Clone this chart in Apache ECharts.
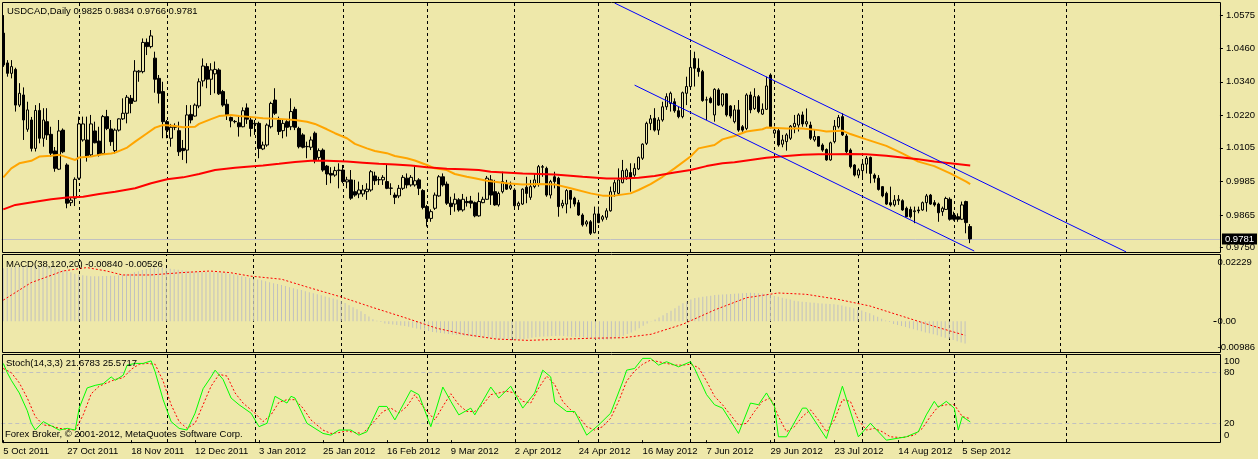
<!DOCTYPE html>
<html><head><meta charset="utf-8">
<script src="https://cdn.jsdelivr.net/npm/echarts@6/dist/echarts.min.js"></script>
<style>html,body{margin:0;padding:0;background:#EEE8AA;} #c{width:1258px;height:459px;}</style>
</head><body><div id="c"></div>
<script>
// ---------- data ----------
const openP = [
1.0513,1.0407,1.0370,1.0384,1.0257,1.0293,1.0171,1.0204,1.0103,1.0238,
1.0139,1.0198,1.0153,1.0094,1.0029,1.0168,1.0044,0.9910,0.9926,0.9997,
1.0133,1.0133,1.0080,1.0165,1.0129,1.0085,1.0216,1.0172,1.0095,1.0168,
1.0208,1.0228,1.0281,1.0271,1.0375,1.0376,1.0480,1.0465,1.0424,1.0352,
1.0305,1.0198,1.0139,1.0182,1.0166,1.0103,1.0097,1.0224,1.0218,1.0254,
1.0343,1.0394,1.0349,1.0368,1.0382,1.0305,1.0260,1.0213,1.0199,1.0194,
1.0180,1.0247,1.0204,1.0190,1.0192,1.0101,1.0115,1.0180,1.0275,1.0204,
1.0166,1.0198,1.0180,1.0242,1.0174,1.0151,1.0109,1.0107,1.0157,1.0071,
1.0097,1.0040,1.0014,1.0008,1.0024,1.0026,0.9984,0.9991,0.9949,0.9941,
0.9941,0.9949,0.9955,1.0005,0.9991,0.9991,0.9985,0.9961,0.9937,0.9934,
0.9961,0.9997,0.9973,0.9973,0.9991,0.9953,0.9896,0.9854,0.9890,0.9934,
1.0002,0.9976,0.9908,0.9905,0.9920,0.9884,0.9914,0.9916,0.9910,0.9863,
0.9910,0.9922,0.9991,0.9949,0.9902,0.9949,0.9976,0.9961,0.9955,0.9899,
0.9905,0.9965,0.9929,0.9967,0.9976,1.0036,1.0032,0.9937,1.0002,0.9997,
0.9899,0.9905,0.9953,0.9926,0.9910,0.9866,0.9834,0.9842,0.9803,0.9870,
0.9851,0.9858,0.9881,0.9949,0.9943,0.9981,1.0002,1.0017,1.0008,1.0030,
1.0068,1.0121,1.0192,1.0210,1.0168,1.0204,1.0251,1.0263,1.0269,1.0237,
1.0216,1.0299,1.0323,1.0423,1.0388,1.0376,1.0275,1.0281,1.0222,1.0311,
1.0257,1.0297,1.0254,1.0198,1.0240,1.0180,1.0174,1.0293,1.0245,1.0287,
1.0225,1.0242,1.0364,1.0157,1.0166,1.0118,1.0127,1.0139,1.0180,1.0186,
1.0222,1.0190,1.0186,1.0133,1.0145,1.0115,1.0099,1.0062,1.0127,1.0180,
1.0216,1.0147,1.0097,1.0044,1.0008,1.0024,1.0047,1.0071,1.0008,0.9997,
0.9967,0.9943,0.9910,0.9902,0.9917,0.9917,0.9890,0.9886,0.9878,0.9884,
0.9884,0.9910,0.9937,0.9910,0.9905,0.9878,0.9886,0.9922,0.9866,0.9860,
0.9851,0.9914,0.9825];
const highP = [
1.0577,1.0417,1.0417,1.0390,1.0335,1.0320,1.0269,1.0215,1.0257,1.0264,
1.0246,1.0246,1.0180,1.0108,1.0204,1.0174,1.0050,0.9930,1.0000,1.0216,
1.0216,1.0216,1.0222,1.0198,1.0180,1.0222,1.0240,1.0204,1.0174,1.0210,
1.0281,1.0293,1.0293,1.0417,1.0382,1.0494,1.0494,1.0524,1.0447,1.0364,
1.0340,1.0204,1.0190,1.0192,1.0198,1.0133,1.0257,1.0257,1.0263,1.0352,
1.0423,1.0406,1.0406,1.0412,1.0388,1.0311,1.0278,1.0216,1.0204,1.0216,
1.0249,1.0263,1.0216,1.0204,1.0198,1.0127,1.0192,1.0269,1.0317,1.0216,
1.0204,1.0204,1.0281,1.0251,1.0180,1.0157,1.0127,1.0145,1.0163,1.0103,
1.0103,1.0044,1.0036,1.0038,1.0050,1.0044,1.0002,1.0026,0.9991,0.9985,
0.9973,0.9979,1.0026,1.0020,1.0002,1.0008,1.0044,0.9979,0.9946,0.9973,
1.0008,1.0014,1.0008,1.0044,0.9997,0.9958,0.9902,0.9886,0.9946,1.0008,
1.0014,0.9985,0.9931,0.9943,0.9926,0.9941,0.9931,0.9934,0.9914,0.9946,
0.9931,1.0005,1.0008,0.9991,0.9949,1.0020,0.9991,0.9985,0.9961,0.9914,
0.9961,1.0002,0.9991,1.0014,1.0044,1.0044,1.0038,0.9991,1.0020,1.0002,
0.9920,0.9958,0.9955,0.9931,0.9920,0.9872,0.9848,0.9848,0.9896,0.9896,
0.9866,0.9890,0.9967,0.9991,1.0032,1.0062,1.0032,1.0050,1.0050,1.0074,
1.0121,1.0198,1.0222,1.0246,1.0214,1.0269,1.0299,1.0305,1.0281,1.0251,
1.0305,1.0358,1.0453,1.0447,1.0423,1.0382,1.0287,1.0287,1.0317,1.0317,
1.0299,1.0299,1.0257,1.0257,1.0275,1.0186,1.0299,1.0305,1.0317,1.0293,
1.0263,1.0358,1.0370,1.0180,1.0174,1.0151,1.0157,1.0186,1.0222,1.0228,
1.0234,1.0245,1.0198,1.0168,1.0147,1.0121,1.0103,1.0127,1.0204,1.0222,
1.0228,1.0154,1.0103,1.0047,1.0032,1.0056,1.0076,1.0074,1.0014,1.0008,
0.9969,0.9949,0.9967,0.9937,0.9937,0.9922,0.9896,0.9896,0.9896,0.9896,
0.9914,0.9941,0.9941,0.9919,0.9910,0.9896,0.9931,0.9929,0.9878,0.9872,
0.9914,0.9917,0.9834];
const lowP = [
1.0393,1.0358,1.0352,1.0234,1.0250,1.0133,1.0162,1.0092,1.0092,1.0121,
1.0109,1.0133,1.0074,1.0020,1.0026,1.0086,0.9890,0.9898,0.9898,0.9991,
1.0127,1.0056,1.0074,1.0121,1.0074,1.0080,1.0168,1.0112,1.0085,1.0163,
1.0204,1.0192,1.0228,1.0269,1.0340,1.0370,1.0435,1.0459,1.0301,1.0263,
1.0139,1.0139,1.0109,1.0168,1.0076,1.0062,1.0050,1.0192,1.0216,1.0246,
1.0323,1.0317,1.0293,1.0299,1.0293,1.0251,1.0204,1.0178,1.0192,1.0145,
1.0178,1.0190,1.0145,1.0151,1.0068,1.0097,1.0109,1.0174,1.0222,1.0151,
1.0139,1.0145,1.0168,1.0168,1.0103,1.0103,1.0068,1.0097,1.0050,1.0062,
1.0020,0.9973,0.9979,1.0002,0.9961,0.9979,0.9961,0.9920,0.9931,0.9926,
0.9931,0.9920,0.9949,0.9973,0.9973,0.9973,0.9958,0.9937,0.9905,0.9926,
0.9955,0.9961,0.9967,0.9967,0.9937,0.9886,0.9825,0.9842,0.9884,0.9931,
0.9967,0.9902,0.9866,0.9878,0.9878,0.9878,0.9896,0.9890,0.9858,0.9860,
0.9908,0.9920,0.9902,0.9899,0.9896,0.9943,0.9955,0.9955,0.9884,0.9884,
0.9902,0.9908,0.9920,0.9961,0.9967,1.0002,0.9931,0.9925,0.9961,0.9860,
0.9890,0.9872,0.9890,0.9896,0.9863,0.9825,0.9825,0.9795,0.9801,0.9837,
0.9843,0.9849,0.9878,0.9931,0.9938,0.9979,0.9991,0.9949,1.0002,1.0026,
1.0062,1.0115,1.0168,1.0163,1.0151,1.0198,1.0240,1.0234,1.0230,1.0210,
1.0210,1.0257,1.0317,1.0323,1.0358,1.0269,1.0204,1.0263,1.0198,1.0254,
1.0251,1.0216,1.0210,1.0192,1.0162,1.0162,1.0168,1.0228,1.0240,1.0228,
1.0222,1.0240,1.0174,1.0151,1.0109,1.0107,1.0095,1.0133,1.0157,1.0163,
1.0180,1.0180,1.0133,1.0127,1.0109,1.0091,1.0059,1.0059,1.0121,1.0174,
1.0147,1.0085,1.0032,1.0003,0.9997,0.9993,1.0014,0.9979,0.9981,0.9953,
0.9929,0.9902,0.9896,0.9896,0.9902,0.9881,0.9858,0.9854,0.9837,0.9872,
0.9881,0.9878,0.9902,0.9896,0.9842,0.9863,0.9884,0.9846,0.9846,0.9842,
0.9848,0.9801,0.9766];
const closeP = [
1.0400,1.0370,1.0394,1.0257,1.0299,1.0204,1.0240,1.0103,1.0238,1.0139,
1.0204,1.0151,1.0086,1.0032,1.0165,1.0091,0.9908,0.9919,0.9993,1.0190,
1.0190,1.0074,1.0190,1.0123,1.0080,1.0216,1.0174,1.0127,1.0168,1.0208,
1.0228,1.0285,1.0263,1.0378,1.0378,1.0480,1.0465,1.0503,1.0349,1.0299,
1.0198,1.0168,1.0178,1.0178,1.0091,1.0095,1.0222,1.0204,1.0257,1.0340,
1.0396,1.0349,1.0382,1.0384,1.0297,1.0257,1.0222,1.0201,1.0198,1.0180,
1.0237,1.0207,1.0174,1.0192,1.0103,1.0115,1.0186,1.0263,1.0228,1.0163,
1.0192,1.0178,1.0234,1.0178,1.0109,1.0107,1.0110,1.0133,1.0062,1.0095,
1.0026,1.0012,1.0008,1.0024,1.0026,0.9985,0.9991,0.9926,0.9937,0.9955,
0.9955,0.9958,1.0020,0.9988,0.9992,1.0000,0.9961,0.9962,0.9929,0.9961,
1.0000,0.9973,1.0000,0.9988,0.9961,0.9893,0.9854,0.9878,0.9937,1.0002,
0.9973,0.9908,0.9896,0.9922,0.9884,0.9922,0.9910,0.9908,0.9863,0.9914,
0.9922,0.9997,0.9937,0.9902,0.9943,0.9985,0.9958,0.9970,0.9899,0.9908,
0.9958,0.9943,0.9967,0.9991,1.0038,1.0038,0.9937,0.9985,0.9985,0.9896,
0.9908,0.9953,0.9922,0.9905,0.9866,0.9831,0.9842,0.9801,0.9870,0.9839,
0.9860,0.9881,0.9949,0.9981,0.9991,1.0024,1.0026,1.0000,1.0032,1.0071,
1.0118,1.0192,1.0208,1.0168,1.0204,1.0251,1.0287,1.0299,1.0237,1.0216,
1.0301,1.0323,1.0391,1.0388,1.0376,1.0273,1.0276,1.0266,1.0313,1.0257,
1.0297,1.0222,1.0218,1.0240,1.0168,1.0168,1.0293,1.0240,1.0287,1.0234,
1.0242,1.0325,1.0180,1.0168,1.0115,1.0133,1.0151,1.0182,1.0192,1.0222,
1.0190,1.0198,1.0139,1.0145,1.0111,1.0097,1.0062,1.0123,1.0182,1.0213,
1.0151,1.0091,1.0038,1.0008,1.0026,1.0047,1.0068,1.0014,0.9997,0.9957,
0.9934,0.9905,0.9902,0.9919,0.9922,0.9884,0.9860,0.9860,0.9881,0.9881,
0.9910,0.9934,0.9905,0.9902,0.9874,0.9890,0.9925,0.9851,0.9851,0.9851,
0.9902,0.9839,0.9781];

const maOrange = [[0,1.0000],[2,1.0032],[4,1.0050],[7,1.0059],[9,1.0074],[12,1.0077],[14,1.0080],[16,1.0071],[18,1.0062],[19,1.0071],[22,1.0074],[24,1.0080],[27,1.0085],[28,1.0088],[31,1.0106],[33,1.0127],[36,1.0157],[38,1.0177],[40,1.0186],[43,1.0183],[45,1.0178],[48,1.0180],[49,1.0190],[52,1.0207],[54,1.0218],[57,1.0222],[59,1.0218],[61,1.0216],[65,1.0210],[69,1.0208],[73,1.0204],[76,1.0198],[78,1.0190],[81,1.0171],[83,1.0157],[86,1.0139],[88,1.0119],[91,1.0103],[93,1.0094],[96,1.0086],[98,1.0076],[101,1.0068],[103,1.0060],[106,1.0044],[108,1.0032],[111,1.0026],[113,1.0012],[116,1.0002],[118,0.9997],[121,0.9988],[123,0.9984],[126,0.9979],[130,0.9975],[134,0.9976],[138,0.9975],[142,0.9961],[147,0.9943],[150,0.9935],[153,0.9935],[157,0.9943],[159,0.9955],[162,0.9976],[165,1.0002],[168,1.0032],[172,1.0074],[174,1.0103],[178,1.0115],[180,1.0135],[183,1.0147],[186,1.0163],[190,1.0171],[191,1.0177],[196,1.0174],[200,1.0174],[204,1.0168],[206,1.0163],[210,1.0166],[212,1.0154],[216,1.0135],[221,1.0112],[225,1.0085],[229,1.0056],[233,1.0040],[237,1.0014],[241,0.9985],[242,0.9976]];
const maRed = [[0,0.9886],[3,0.9902],[8,0.9913],[12,0.9922],[16,0.9928],[20,0.9931],[24,0.9941],[28,0.9949],[33,0.9961],[37,0.9979],[41,0.9993],[45,1.0000],[49,1.0012],[53,1.0026],[58,1.0034],[61,1.0038],[65,1.0042],[69,1.0048],[73,1.0055],[77,1.0059],[81,1.0059],[86,1.0056],[90,1.0052],[94,1.0048],[98,1.0046],[102,1.0042],[106,1.0036],[111,1.0031],[115,1.0029],[119,1.0026],[122,1.0020],[130,1.0014],[138,1.0010],[145,1.0002],[151,0.9996],[155,0.9996],[159,0.9999],[163,1.0005],[168,1.0017],[172,1.0026],[176,1.0040],[180,1.0050],[183,1.0054],[187,1.0062],[191,1.0070],[196,1.0076],[200,1.0080],[204,1.0082],[208,1.0082],[212,1.0083],[216,1.0082],[221,1.0077],[225,1.0071],[229,1.0064],[233,1.0056],[237,1.0050],[242,1.0042]];

const macdHist = [
0.0200,0.0202,0.0203,0.0205,0.0206,0.0207,0.0208,0.0209,0.0210,0.0209,
0.0208,0.0207,0.0205,0.0202,0.0198,0.0194,0.0190,0.0185,0.0180,0.0176,
0.0174,0.0172,0.0170,0.0170,0.0170,0.0171,0.0171,0.0172,0.0172,0.0174,
0.0176,0.0178,0.0180,0.0185,0.0189,0.0194,0.0198,0.0201,0.0203,0.0203,
0.0203,0.0201,0.0199,0.0197,0.0195,0.0193,0.0191,0.0189,0.0187,0.0187,
0.0186,0.0186,0.0186,0.0185,0.0185,0.0184,0.0183,0.0180,0.0177,0.0174,
0.0170,0.0167,0.0164,0.0161,0.0158,0.0155,0.0151,0.0148,0.0144,0.0141,
0.0137,0.0133,0.0129,0.0125,0.0121,0.0118,0.0114,0.0110,0.0106,0.0102,
0.0098,0.0094,0.0090,0.0086,0.0082,0.0077,0.0069,0.0061,0.0053,0.0046,
0.0038,0.0028,0.0018,0.0008,0.0002,-0.0003,-0.0008,-0.0010,-0.0012,-0.0014,
-0.0016,-0.0018,-0.0021,-0.0024,-0.0027,-0.0031,-0.0034,-0.0037,-0.0040,-0.0042,
-0.0044,-0.0046,-0.0048,-0.0050,-0.0052,-0.0053,-0.0055,-0.0056,-0.0058,-0.0059,
-0.0060,-0.0062,-0.0063,-0.0064,-0.0066,-0.0067,-0.0068,-0.0069,-0.0070,-0.0071,
-0.0069,-0.0067,-0.0065,-0.0062,-0.0060,-0.0058,-0.0057,-0.0057,-0.0056,-0.0056,
-0.0055,-0.0056,-0.0057,-0.0058,-0.0059,-0.0060,-0.0061,-0.0063,-0.0066,-0.0069,
-0.0071,-0.0070,-0.0069,-0.0068,-0.0064,-0.0060,-0.0055,-0.0048,-0.0042,-0.0035,
-0.0026,-0.0017,-0.0008,-0.0001,0.0007,0.0014,0.0023,0.0031,0.0040,0.0049,
0.0059,0.0068,0.0075,0.0082,0.0088,0.0090,0.0093,0.0095,0.0097,0.0099,
0.0100,0.0101,0.0102,0.0103,0.0104,0.0105,0.0106,0.0107,0.0108,0.0107,
0.0106,0.0105,0.0102,0.0099,0.0096,0.0093,0.0089,0.0085,0.0082,0.0078,
0.0076,0.0074,0.0073,0.0071,0.0070,0.0068,0.0067,0.0066,0.0065,0.0064,
0.0063,0.0060,0.0056,0.0053,0.0049,0.0046,0.0041,0.0035,0.0030,0.0023,
0.0017,0.0010,0.0003,-0.0003,-0.0010,-0.0014,-0.0018,-0.0022,-0.0026,-0.0030,
-0.0034,-0.0038,-0.0042,-0.0045,-0.0049,-0.0053,-0.0058,-0.0062,-0.0066,-0.0071,
-0.0075,-0.0080,-0.0084];
const macdSignal = [[0,0.0080],[7,0.0146],[15,0.0190],[21,0.0203],[26,0.0190],[30,0.0175],[37,0.0175],[45,0.0184],[52,0.0190],[57,0.0184],[62,0.0171],[70,0.0159],[77,0.0127],[85,0.0092],[93,0.0052],[101,0.0014],[109,-0.0026],[116,-0.0049],[124,-0.0067],[132,-0.0072],[140,-0.0068],[148,-0.0064],[156,-0.0062],[163,-0.0049],[171,-0.0011],[179,0.0043],[187,0.0089],[195,0.0107],[202,0.0102],[210,0.0083],[218,0.0058],[226,0.0020],[234,-0.0018],[242,-0.0053]];

const stochMain = [[0,91],[1,80],[2,71],[4,56],[6,35],[7,20],[8,12],[10,22],[12,17],[14,12],[16,14],[18,12],[19,38],[21,62],[23,65],[25,67],[27,75],[28,71],[30,77],[31,89],[33,91],[35,91],[37,94],[38,81],[40,48],[42,22],[44,14],[46,12],[48,32],[50,61],[52,75],[53,83],[55,72],[57,50],[59,42],[62,32],[64,16],[66,20],[68,52],[71,44],[72,52],[73,50],[76,20],[80,8],[82,6],[84,12],[87,12],[89,6],[91,10],[94,40],[96,40],[98,24],[102,59],[104,54],[107,16],[110,63],[112,46],[114,30],[117,38],[118,30],[122,63],[124,50],[127,64],[130,38],[133,56],[135,83],[137,75],[138,45],[141,34],[143,34],[146,6],[149,18],[152,32],[155,69],[156,83],[158,85],[160,97],[162,97],[164,89],[166,93],[169,87],[172,93],[173,85],[176,54],[178,42],[180,38],[184,8],[187,44],[189,42],[191,56],[193,40],[194,4],[196,4],[200,38],[201,38],[206,2],[210,64],[214,4],[217,20],[221,0],[226,4],[229,10],[231,30],[233,46],[234,39],[236,46],[238,38],[239,12],[240,28],[242,21.68]];
const stochSignal = [[0,85],[2,80],[4,68],[6,50],[8,28],[10,18],[12,17],[14,14],[16,13],[18,12],[20,30],[22,55],[24,64],[26,68],[28,72],[30,74],[32,84],[34,90],[36,91],[38,90],[40,70],[42,42],[44,22],[46,14],[48,20],[50,42],[52,64],[54,78],[56,76],[58,56],[60,44],[63,32],[65,22],[67,30],[69,45],[71,48],[73,48],[75,38],[77,24],[80,12],[82,8],[84,9],[86,11],[88,9],[90,8],[92,18],[95,34],[97,38],[99,32],[101,40],[103,54],[105,40],[108,24],[110,40],[112,55],[114,42],[116,34],[118,34],[120,42],[122,54],[124,56],[126,58],[128,56],[130,46],[132,44],[134,62],[136,76],[138,66],[140,46],[142,36],[144,28],[146,16],[148,12],[150,16],[152,26],[154,46],[156,70],[158,82],[160,90],[162,95],[164,93],[166,91],[168,89],[170,89],[172,90],[174,86],[176,70],[178,52],[180,42],[182,30],[184,18],[186,20],[188,34],[190,46],[192,50],[194,28],[196,10],[198,16],[200,28],[202,36],[204,24],[206,10],[208,24],[210,48],[212,46],[214,24],[216,12],[218,14],[220,10],[222,4],[225,3],[228,6],[230,14],[232,28],[234,40],[236,42],[238,42],[240,28],[242,25.57]];

const priceTicks = [1.0575,1.0460,1.0340,1.0220,1.0105,0.9985,0.9865,0.9750];
const macdTicks = [0.02229,0,-0.00986];
const macdTickLabels = ['0.02229','0.00','-0.00986'];
const macdTickMarks = [0];
const stochTicks = [100,80,20,0];
const stochLevels = [80,20];
const separators = [19,41,63,85,106,128,149,172,193,215,238,266];
const channelUpper = [[153,1.0620],[281,0.9735]];
const channelLower = [[158,1.0328],[243,0.9738]];
const lastPrice = 0.9781;
const titleMain = 'USDCAD,Daily 0.9825 0.9834 0.9766 0.9781';
const titleMacd = 'MACD(38,120,20) -0.00840 -0.00526';
const titleStoch = 'Stoch(14,3,3) 21.6783 25.5717';
const copyright = 'Forex Broker, \u00A9 2001-2012, MetaQuotes Software Corp.';

// ---------- categories (trading days) ----------
const MONTHS = ['Jan','Feb','Mar','Apr','May','Jun','Jul','Aug','Sep','Oct','Nov','Dec'];
const barCount = closeP.length;
const TOTAL = 305;
const cats = [];
const d = new Date(Date.UTC(2011, 9, 5));
while (cats.length < barCount) {
  const wd = d.getUTCDay();
  if (wd !== 0 && wd !== 6) cats.push(d.getUTCDate() + ' ' + MONTHS[d.getUTCMonth()] + ' ' + d.getUTCFullYear());
  d.setUTCDate(d.getUTCDate() + 1);
}
for (let k = cats.length; k < TOTAL; k++) cats.push('f' + k);

const candleData = closeP.map((c, i) => [openP[i], c, lowP[i], highP[i]]);

const BG = '#EEE8AA';
const FONT = 'Liberation Sans, Arial, sans-serif';
const FS = 9.5;
const sepLine = separators.map(s => ({ xAxis: s }));
const sepStyle = { color: '#000', type: [3, 3], width: 1 };

const gridBase = { left: 1.3, right: 38, show: false };
const hiddenX = (gi) => ({
  type: 'category', gridIndex: gi, data: cats, boundaryGap: true,
  axisLine: { show: false }, axisTick: { show: false }, axisLabel: { show: false }, splitLine: { show: false }
});
const yBase = (gi, min, max, margin) => ({
  type: 'value', gridIndex: gi, position: 'right', min: min, max: max, scale: true,
  axisLine: { show: false }, splitLine: { show: false },
  axisTick: { show: true, length: 3, lineStyle: { color: '#000' } },
  axisLabel: { show: true, margin: margin, color: '#000', fontFamily: FONT, fontSize: FS }
});

const yMain = yBase(0, 0.97345, 1.06237, 6);
yMain.axisTick.customValues = priceTicks;
yMain.axisLabel.customValues = priceTicks;
yMain.axisLabel.formatter = v => v.toFixed(4);

const yMacd = yBase(1, -0.011598, 0.025426, 4);
yMacd.axisTick.customValues = macdTickMarks;
yMacd.axisLabel.customValues = macdTicks;
yMacd.axisLabel.formatter = v => { const k = macdTicks.findIndex(t => Math.abs(t - v) < 1e-7); return k >= 0 ? macdTickLabels[k] : ''; };

const yStoch = yBase(2, -2.17, 102.17, 4);
yStoch.axisTick.show = false;
yStoch.axisLabel.customValues = stochTicks;
yStoch.axisLabel.formatter = v => {
  const r = Math.round(v);
  if (r === stochTicks[0]) return '{t|' + r + '}';
  if (r === stochTicks[stochTicks.length - 1]) return '{b|' + r + '}';
  return String(r);
};
yStoch.axisLabel.rich = {
  t: { padding: [11, 0, 0, 0], color: '#000', fontFamily: FONT, fontSize: FS },
  b: { padding: [0, 0, 10, 0], color: '#000', fontFamily: FONT, fontSize: FS }
};

const showIdx = (i) => i % 16 === 0 && i < barCount;

const frame = (y, h) => ({ type: 'rect', z: 50, silent: true,
  shape: { x: 2.5, y: y + 0.5, width: 1218, height: h },
  style: { fill: null, stroke: '#000', lineWidth: 1 } });

const option = {
  animation: false,
  backgroundColor: BG,
  grid: [
    Object.assign({ top: 2, height: 250 }, gridBase),
    Object.assign({ top: 254, height: 98 }, gridBase),
    Object.assign({ top: 354, height: 88 }, gridBase)
  ],
  xAxis: [
    hiddenX(0), hiddenX(1),
    {
      type: 'category', gridIndex: 2, data: cats, boundaryGap: true,
      axisLine: { show: false }, splitLine: { show: false },
      axisTick: { show: true, alignWithLabel: true, length: 3, interval: showIdx, lineStyle: { color: '#000' } },
      axisLabel: { show: true, interval: showIdx, align: 'left', margin: 4, color: '#000', fontFamily: FONT, fontSize: FS,
        formatter: (v, i) => (i < barCount ? v : '') }
    }
  ],
  yAxis: [yMain, yMacd, yStoch],
  graphic: [
    frame(2, 250), frame(254, 98), frame(354, 88),
    { type: 'text', left: 7, top: 6, z: 100, style: { text: titleMain, fill: '#000', font: FS + 'px ' + FONT } },
    { type: 'text', left: 6, top: 259, z: 100, style: { text: titleMacd, fill: '#000', font: FS + 'px ' + FONT } },
    { type: 'text', left: 6, top: 358, z: 100, style: { text: titleStoch, fill: '#000', font: FS + 'px ' + FONT } },
    { type: 'text', left: 5, top: 429, z: 100, style: { text: copyright, fill: '#000', font: FS + 'px ' + FONT } }
  ],
  series: [
    {
      type: 'candlestick', xAxisIndex: 0, yAxisIndex: 0, data: candleData, barWidth: 3, z: 3,
      itemStyle: { color: BG, color0: '#000', borderColor: '#000', borderColor0: '#000', borderColorDoji: '#000', borderWidth: 1 },
      markLine: {
        silent: true, symbol: 'none', z: 1, animation: false, precision: 4,
        label: { show: false },
        data: sepLine.map(s => Object.assign({ lineStyle: sepStyle }, s)).concat([
          { yAxis: lastPrice, lineStyle: { color: '#C0C0C0', type: 'solid', width: 1 },
            label: { show: true, position: 'end', distance: 2, formatter: lastPrice.toFixed(4), color: '#fff', backgroundColor: '#000',
              padding: [1, 3, 0, 3], fontFamily: FONT, fontSize: FS } }
        ])
      }
    },
    {
      type: 'line', xAxisIndex: 0, yAxisIndex: 0, data: [], z: 5,
      markLine: {
        silent: true, symbol: 'none', z: 6, animation: false, label: { show: false },
        lineStyle: { color: '#0000FF', type: 'solid', width: 1 },
        data: [
          [{ coord: channelUpper[0] }, { coord: channelUpper[1] }],
          [{ coord: channelLower[0] }, { coord: channelLower[1] }]
        ]
      }
    },
    { type: 'line', xAxisIndex: 0, yAxisIndex: 0, data: maOrange, showSymbol: false, symbol: 'none', z: 4,
      lineStyle: { color: '#FFA500', width: 2 } },
    { type: 'line', xAxisIndex: 0, yAxisIndex: 0, data: maRed, showSymbol: false, symbol: 'none', z: 4,
      lineStyle: { color: '#FF0000', width: 2 } },
    {
      type: 'bar', xAxisIndex: 1, yAxisIndex: 1, data: macdHist, barWidth: 1, z: 2,
      itemStyle: { color: '#C0C0C0' },
      markLine: { silent: true, symbol: 'none', z: 1, animation: false, label: { show: false }, lineStyle: sepStyle, data: sepLine }
    },
    { type: 'line', xAxisIndex: 1, yAxisIndex: 1, data: macdSignal, showSymbol: false, symbol: 'none', z: 4,
      lineStyle: { color: '#FF0000', width: 1, type: [2, 2] } },
    {
      type: 'line', xAxisIndex: 2, yAxisIndex: 2, data: stochMain, showSymbol: false, symbol: 'none', z: 4,
      lineStyle: { color: '#00FF00', width: 1 },
      markLine: { silent: true, symbol: 'none', z: 1, animation: false, label: { show: false },
        data: sepLine.map(s => Object.assign({ lineStyle: sepStyle }, s)).concat(
          stochLevels.map(v => ({ yAxis: v, lineStyle: { color: '#C0C0C0', type: [4, 3], width: 1 } }))) }
    },
    { type: 'line', xAxisIndex: 2, yAxisIndex: 2, data: stochSignal, showSymbol: false, symbol: 'none', z: 3,
      lineStyle: { color: '#FF0000', width: 1, type: [2, 2] } }
  ]
};

const chart = echarts.init(document.getElementById('c'), null, { renderer: 'canvas' });
chart.setOption(option);
</script>
</body></html>
